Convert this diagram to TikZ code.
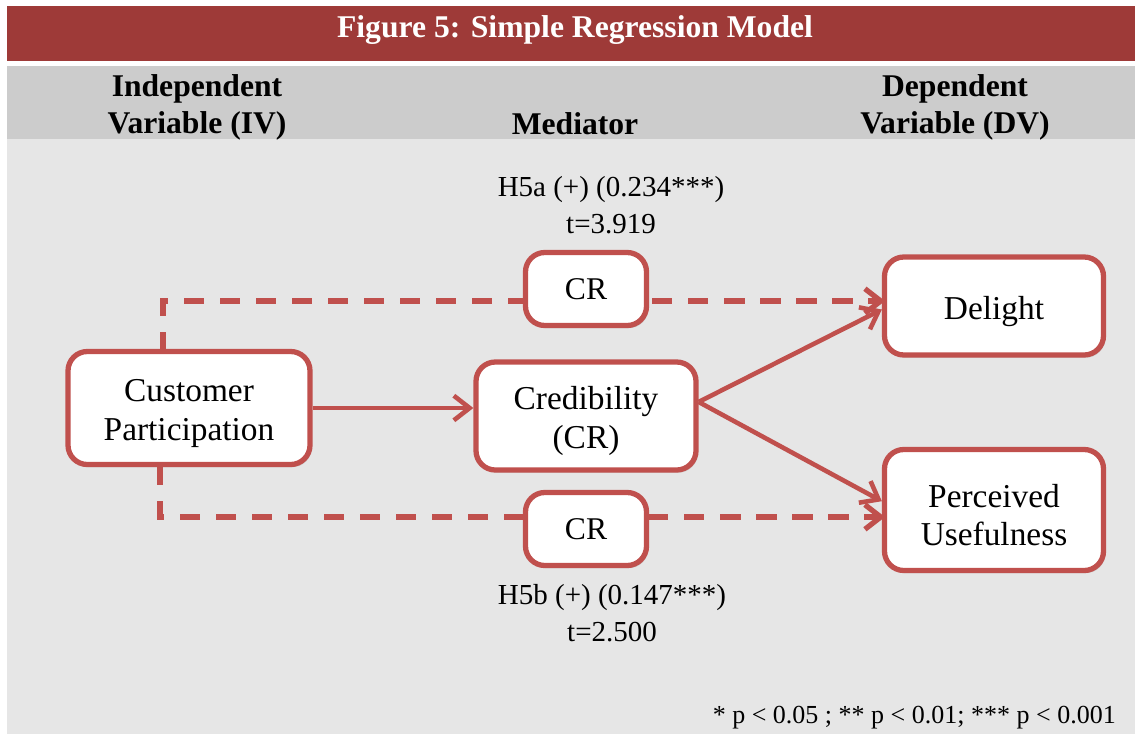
\documentclass[tikz,border=0pt]{standalone}
\usepackage{fontspec}
\setmainfont{Liberation Serif}
\usetikzlibrary{math,positioning,arrows.meta,shadows}

\definecolor{barRed}{RGB}{158,58,56}
\definecolor{boxRed}{RGB}{192,80,77}
\definecolor{headGray}{RGB}{204,204,204}
\definecolor{bodyGray}{RGB}{230,230,230}

\tikzset{
  boxbase/.style={draw=boxRed, line width=3pt, fill=white, rounded corners=11pt,
    align=center, inner sep=2pt,
    drop shadow={opacity=0.25, shadow xshift=1pt, shadow yshift=-1.5pt}},
  varbox/.style={boxbase, font=\fontsize{19}{22}\selectfont},
  oneline/.style={text height=19pt},
  twoline/.style={text height=41pt},
  crbox/.style={boxbase, font=\fontsize{18}{21}\selectfont},
  link/.style={draw=boxRed, line width=2.6pt, -{Straight Barb[length=9pt,width=14pt]}},
  medlink/.style={link, line width=3pt, dash pattern=on 11.5pt off 9pt},
  head/.style={font=\fontsize{18}{21}\bfseries\selectfont, align=center},
  coef/.style={font=\fontsize{16.5}{21}\selectfont, align=center}
}

\begin{document}
\begin{tikzpicture}[x=0.02cm, y=-0.02cm]
	\tikzmath{
		\px = 0.02;
		\bigW = 242*\px; \bigH = 113*\px;
		\medW = 220*\px; \medH = 108*\px;
		\crW = 121*\px;  \crH = 73*\px;
		\dvW = 219*\px;
	}

	\useasboundingbox (0,0) rectangle (1135,734);

	% background panels
	\fill[barRed] (7,6) rectangle (1135,61);
	\fill[headGray] (7,66) rectangle (1135,139);
	\fill[bodyGray] (7,139) rectangle (1135,734);

	\node[head, text=white] (title) at (575,30) {Figure 5: Simple Regression Model};
	\node[head] (ivHead) at (197,107) {Independent\\Variable (IV)};
	\node[head] (medHead) at (575,124) {Mediator};
	\node[head] (dvHead) at (955,107) {Dependent\\Variable (DV)};

	\coordinate (upTurn) at (163,301);
	\coordinate (downTurn) at (160,517);

	% mediated paths (behind the boxes)
	\draw[medlink] (163,352) -- (upTurn) -- (upTurn -| 885,0);
	\draw[medlink] (160,465) -- (downTurn) -- (downTurn -| 885,0);

	\node[varbox, twoline, minimum width=\bigW cm, minimum height=\bigH cm] (cp) at (189,408) {Customer\\Participation};
	\node[varbox, twoline, minimum width=\medW cm, minimum height=\medH cm] (cred) at (586,416) {Credibility\\(CR)};
	\node[crbox, minimum width=\crW cm, minimum height=\crH cm] (crTop) at (586,289) {CR};
	\node[crbox, minimum width=\crW cm, minimum height=\crH cm] (crBot) at (586,529) {CR};
	\node[varbox, oneline, minimum width=\dvW cm, minimum height=98*\px cm] (delight) at (994,306) {Delight};
	\node[varbox, twoline, minimum width=\dvW cm, minimum height=121*\px cm] (pu) at (994,510) {Perceived\\Usefulness};

	\draw[link] (cp.east) -- (cp.east -| cred.west);
	\draw[link] ([yshift=8pt]cred.east) -- ([yshift=-2pt]delight.west);
	\draw[link] ([yshift=8pt]cred.east) -- ([yshift=5pt]pu.west);

	\node[coef] (h5a) at (611,205) {H5a (+) (0.234***)\\t=3.919};
	\node[coef] (h5b) at (612,613) {H5b (+) (0.147***)\\t=2.500};

	\node[font=\fontsize{14.8}{18}\selectfont, anchor=east] (pNote) at (1122,718) {* p < 0.05 ; ** p < 0.01; *** p < 0.001};
\end{tikzpicture}
\end{document}
